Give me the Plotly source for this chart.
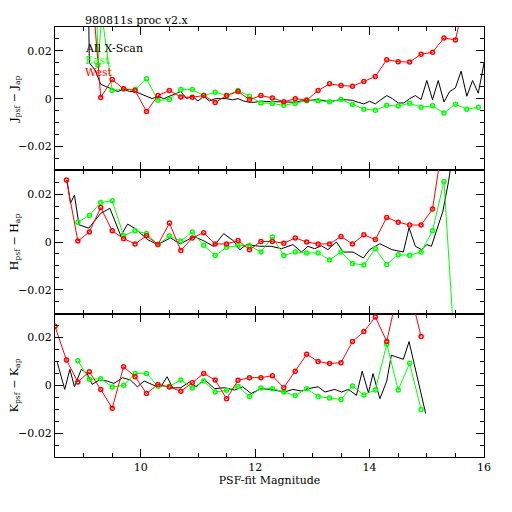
import plotly.graph_objects as go
from plotly.subplots import make_subplots

# --- J panel -------------------------------------------------------------
j_all_x = [9.0, 9.1, 9.2, 9.3, 9.4, 9.5, 9.6, 9.7, 9.8, 9.9, 10.0, 10.1, 10.2, 10.3, 10.4,
           10.5, 10.6, 10.7, 10.8, 10.9, 11.0, 11.1, 11.2, 11.3, 11.4, 11.5, 11.6, 11.7,
           11.8, 11.9, 12.0, 12.1, 12.2, 12.3, 12.4, 12.5, 12.6, 12.7, 12.8, 12.9, 13.0,
           13.1, 13.2, 13.3, 13.4, 13.5, 13.6, 13.7, 13.8, 13.9, 14.0, 14.1, 14.2, 14.3,
           14.4, 14.5, 14.6, 14.7, 14.8, 14.9, 15.0, 15.1, 15.2, 15.3, 15.4, 15.5, 15.6,
           15.7, 15.8, 15.9, 16.0]
j_all_y = [0.2, 0.015, 0.012, 0.006, 0.005, 0.004, 0.003, 0.004, 0.003, 0.003, 0.002, 0.001,
           0.0, 0.001, 0.0, 0.001, 0.002, 0.003, 0.0, 0.001, -0.001, 0.001, -0.001, 0.0, 0.0,
           0.0, -0.0005, 0.0, -0.001, -0.0015, -0.0015, -0.001, -0.0012, -0.0011, -0.0013,
           -0.0014, -0.0015, -0.0015, -0.001, -0.0007, -0.0005, -0.0004, -0.0008, -0.0013,
           -0.0008, -0.0004, -0.0005, -0.0007, -0.0015, -0.0022, -0.0011, -0.0022, -0.0004,
           0.0013, 0.0, -0.0018, -0.0018, 0.0, 0.0013, -0.0004, 0.0076, -0.0004, 0.0076,
           -0.0014, 0.003, 0.0045, 0.0115, 0.001, 0.0076, 0.0023, 0.0149]

j_east_x = [9.1, 9.25, 9.32, 9.5, 9.7, 9.9, 10.1, 10.3, 10.5, 10.7, 10.9, 11.1, 11.3, 11.5,
            11.7, 11.9, 12.1, 12.3, 12.5, 12.7, 12.9, 13.1, 13.3, 13.5, 13.7, 13.9, 14.1,
            14.3, 14.5, 14.7, 14.9, 15.1, 15.3, 15.5, 15.7, 15.9]
j_east_y = [0.2, 0.014, 0.035, 0.0034, 0.0041, 0.0038, 0.0083, -0.0007, -0.0004, 0.0038,
            0.0038, 0.0013, 0.0027, 0.0013, 0.0034, 0.001, -0.0018, -0.002, -0.0028, -0.002,
            -0.0009, -0.0009, -0.0013, -0.0004, -0.0024, -0.0044, -0.0048, -0.0028, -0.0031,
            -0.0019, -0.0036, -0.003, -0.006, -0.0023, -0.0044, -0.0036]

j_west_x = [9.1, 9.3, 9.5, 9.7, 9.9, 10.1, 10.3, 10.5, 10.7, 10.9, 11.1, 11.3, 11.5, 11.7,
            11.9, 12.1, 12.3, 12.5, 12.7, 12.9, 13.1, 13.3, 13.5, 13.7, 13.9, 14.1, 14.3,
            14.5, 14.7, 14.9, 15.1, 15.3, 15.5, 15.7]
j_west_y = [0.06, 0.0005, 0.008, 0.0041, 0.0034, -0.0054, 0.0013, 0.0034, 0.0007, 0.0006,
            0.0013, -0.0016, 0.0013, 0.003, -0.0004, 0.0013, 0.0003, -0.0013, 0.0, -0.0006,
            0.0034, 0.0062, 0.0055, 0.0052, 0.0072, 0.0093, 0.0163, 0.0155, 0.0153, 0.0186,
            0.0194, 0.0254, 0.0246, 0.045]

# --- H panel -------------------------------------------------------------
h_all_x = [8.71, 8.77, 8.84, 8.92, 9.09, 9.30, 9.46, 9.65, 9.77, 9.91, 10.12, 10.29, 10.52,
           10.69, 10.93, 11.1, 11.27, 11.45, 11.62, 11.73, 11.85, 12.08, 12.28, 12.46,
           12.66, 12.81, 12.92, 13.04, 13.16, 13.27, 13.42, 13.54, 13.71, 13.89, 14.0,
           14.18, 14.39, 14.59, 14.69, 14.8, 14.91, 15.0, 15.08, 15.16, 15.28, 15.38, 15.5]
h_all_y = [0.026, 0.0162, 0.0197, 0.0072, 0.0058, 0.012, 0.0141, 0.0026, 0.0075, 0.0055,
           0.001, -0.0011, 0.0017, -0.0008, 0.0023, 0.0005, -0.0018, 0.0035, 0.0005, -0.0032,
           -0.0011, -0.0018, -0.0018, -0.0028, -0.0011, -0.0042, -0.0018, -0.0028, -0.0016,
           -0.0032, 0.0, -0.0042, -0.0042, -0.0067, -0.0032, -0.0007, -0.0032, -0.0042,
           0.006, -0.0018, -0.0032, -0.0011, -0.0018, 0.0044, 0.0128, 0.0253, 0.045]

h_east_x = [8.9, 9.1, 9.3, 9.5, 9.7, 9.9, 10.1, 10.3, 10.5, 10.7, 10.9, 11.1, 11.3, 11.5,
            11.7, 11.9, 12.1, 12.3, 12.5, 12.7, 12.9, 13.1, 13.3, 13.5, 13.7, 13.9, 14.1,
            14.3, 14.5, 14.7, 14.9, 15.1, 15.3, 15.5]
h_east_y = [0.0083, 0.0111, 0.0165, 0.0173, 0.0026, 0.0047, 0.0036, -0.0011, 0.0026, 0.0004,
            0.0042, -0.0014, -0.0057, -0.0022, -0.0015, -0.0015, -0.0042, 0.0021, -0.0057,
            -0.0042, -0.0046, -0.0046, -0.0075, -0.0042, -0.009, -0.0096, -0.0028, -0.0094,
            -0.0053, -0.0055, -0.0042, 0.0047, 0.0253, -0.05]

h_west_x = [8.7, 8.9, 9.1, 9.3, 9.5, 9.7, 9.9, 10.1, 10.3, 10.5, 10.7, 10.9, 11.1, 11.3,
            11.5, 11.7, 11.9, 12.1, 12.3, 12.5, 12.7, 12.9, 13.1, 13.3, 13.5, 13.7, 13.9,
            14.1, 14.3, 14.5, 14.7, 14.9, 15.1, 15.3]
h_west_y = [0.026, 0.0004, 0.0042, 0.0144, 0.0047, 0.0014, -0.0008, 0.0026, -0.0011, 0.0079,
            -0.0036, 0.0017, 0.0039, -0.0008, -0.0008, 0.0006, -0.0032, 0.0002, 0.0002,
            -0.0005, 0.0017, 0.0, -0.0008, -0.0008, 0.0023, -0.0008, 0.003, 0.001, 0.0103,
            0.0083, 0.0071, 0.0071, 0.0138, 0.045]

# --- K panel -------------------------------------------------------------
k_all_x = [8.54, 8.6, 8.67, 8.76, 8.84, 8.96, 9.06, 9.15, 9.27, 9.41, 9.53, 9.68, 9.82, 9.94,
           10.06, 10.23, 10.35, 10.46, 10.56, 10.7, 10.85, 10.97, 11.11, 11.29, 11.46,
           11.64, 11.78, 11.93, 12.1, 12.28, 12.51, 12.66, 12.81, 12.92, 13.1, 13.22,
           13.39, 13.51, 13.63, 13.77, 13.87, 13.98, 14.06, 14.18, 14.3, 14.38, 14.59,
           14.69, 14.85, 14.98]
k_all_y = [0.0096, 0.0046, -0.0017, 0.0067, -0.0006, 0.0067, 0.005, 0.0004, 0.0022, 0.0018,
           0.0008, 0.0032, 0.0022, -0.0006, 0.0018, 0.0, -0.0006, 0.0036, -0.0011, -0.001,
           0.0014, -0.0006, 0.0025, -0.0014, -0.001, -0.002, -0.0006, -0.0034, -0.0014,
           -0.0017, -0.0028, -0.0017, -0.0024, -0.0014, -0.0006, -0.0028, -0.0017, -0.0028,
           -0.0017, -0.0042, 0.0059, -0.0031, 0.0049, -0.0056, 0.0018, 0.0126, 0.0109,
           0.0183, 0.0011, -0.0118]

k_east_x = [8.9, 9.1, 9.3, 9.5, 9.7, 9.9, 10.1, 10.3, 10.5, 10.7, 10.9, 11.1, 11.3, 11.5,
            11.7, 11.9, 12.1, 12.3, 12.5, 12.7, 12.9, 13.1, 13.3, 13.5, 13.7, 13.9, 14.1,
            14.3, 14.5, 14.7, 14.9]
k_east_y = [0.0103, 0.0025, 0.0028, -0.0007, 0.0, 0.005, 0.005, -0.0004, -0.0004, 0.0022,
            -0.0011, 0.0018, -0.0028, -0.0021, -0.0005, -0.0047, -0.0011, -0.0014, -0.0028,
            -0.0043, -0.0014, -0.0047, -0.0053, -0.0059, -0.0003, -0.004, -0.0019, 0.0172,
            -0.0019, 0.0092, -0.0101]

k_west_x = [8.5, 8.7, 8.9, 9.1, 9.3, 9.5, 9.7, 9.9, 10.1, 10.3, 10.5, 10.7, 10.9, 11.1,
            11.3, 11.5, 11.7, 11.9, 12.1, 12.3, 12.5, 12.7, 12.9, 13.1, 13.3, 13.5, 13.7,
            13.9, 14.1, 14.3, 14.5, 14.7, 14.9]
k_west_y = [0.0247, 0.0106, 0.0014, 0.0057, -0.0017, -0.0096, 0.0078, 0.0036, -0.0034,
            0.0004, -0.0007, -0.0025, 0.0011, 0.005, 0.0022, -0.0056, 0.0021, 0.0032, 0.0032,
            0.004, -0.001, 0.0059, 0.013, 0.01, 0.0091, 0.0095, 0.0183, 0.0225, 0.0286,
            0.0184, 0.04, 0.04, 0.0204]

panel_titles = ["J<sub>psf</sub> \u2212 J<sub>ap</sub>",
                "H<sub>psf</sub> \u2212 H<sub>ap</sub>",
                "K<sub>psf</sub> \u2212 K<sub>ap</sub>"]
y_ticks = [-0.02, 0, 0.02]
y_tick_text = ["\u22120.02", "0", "0.02"]
x_ticks = [10, 12, 14, 16]

FONT = "DejaVu Serif"
BLACK, GREEN, RED = "#000000", "#00ff00", "#ff0000"

fig = make_subplots(rows=3, cols=1, shared_xaxes=True, vertical_spacing=0)

panels = [
    (j_all_x, j_all_y, j_east_x, j_east_y, j_west_x, j_west_y),
    (h_all_x, h_all_y, h_east_x, h_east_y, h_west_x, h_west_y),
    (k_all_x, k_all_y, k_east_x, k_east_y, k_west_x, k_west_y),
]

for i, (ax, ay, ex, ey, wx, wy) in enumerate(panels):
    row = i + 1
    fig.add_trace(go.Scatter(x=ax, y=ay, mode="lines", line=dict(color=BLACK, width=1),
                             showlegend=False), row=row, col=1)
    fig.add_trace(go.Scatter(x=ex, y=ey, mode="lines+markers", line=dict(color=GREEN, width=1),
                             marker=dict(symbol="circle-open", size=4, color=GREEN,
                                         line=dict(width=1.5, color=GREEN)),
                             showlegend=False), row=row, col=1)
    fig.add_trace(go.Scatter(x=wx, y=wy, mode="lines+markers", line=dict(color=RED, width=1),
                             marker=dict(symbol="circle-open", size=4, color=RED,
                                         line=dict(width=1.5, color=RED)),
                             showlegend=False), row=row, col=1)
    fig.update_yaxes(range=[-0.03, 0.03], tickvals=y_ticks, ticktext=y_tick_text,
                     ticks="inside", ticklen=8, tickcolor=BLACK, mirror="allticks",
                     showline=True, linecolor=BLACK, linewidth=1, showgrid=False,
                     zeroline=False, automargin=False,
                     minor=dict(dtick=0.005, tick0=0, ticks="inside", ticklen=4,
                                tickcolor=BLACK, showgrid=False),
                     title=dict(text=panel_titles[i], standoff=3,
                                font=dict(family=FONT, size=11, color=BLACK)),
                     tickfont=dict(family=FONT, size=11, color=BLACK),
                     row=row, col=1)
    fig.update_xaxes(range=[8.5, 16], tickvals=x_ticks, ticks="inside", ticklen=8,
                     tickcolor=BLACK, mirror="allticks", showline=True, linecolor=BLACK,
                     linewidth=1, showgrid=False, zeroline=False, automargin=False,
                     minor=dict(dtick=0.5, tick0=0, ticks="inside", ticklen=4,
                                tickcolor=BLACK, showgrid=False),
                     tickfont=dict(family=FONT, size=11, color=BLACK),
                     showticklabels=(row == 3), row=row, col=1)

fig.update_xaxes(title=dict(text="PSF-fit Magnitude", standoff=0,
                            font=dict(family=FONT, size=11, color=BLACK)), row=3, col=1)

# title and legend text inside the top panel
fig.add_annotation(text="980811s proc v2.x", xref="paper", yref="paper", x=0.065, y=1.0,
                   xanchor="left", yanchor="bottom", yshift=-2, showarrow=False,
                   font=dict(family=FONT, size=11, color=BLACK))
legend_items = [("All X-Scan", BLACK), ("East", GREEN), ("West", RED)]
for k, (label, colour) in enumerate(legend_items):
    fig.add_annotation(text=label, xref="paper", yref="paper", x=0.065,
                       y=0.951 - k * 0.028, xanchor="left", yanchor="middle",
                       showarrow=False, font=dict(family=FONT, size=11, color=colour))

# the page body adds an 8 px offset, so the margins are shifted to compensate
fig.update_layout(width=512, height=512, paper_bgcolor="white", plot_bgcolor="white",
                  margin=dict(l=47, r=36, t=19, b=63), showlegend=False,
                  font=dict(family=FONT, color=BLACK))

fig.write_html("out.html")
